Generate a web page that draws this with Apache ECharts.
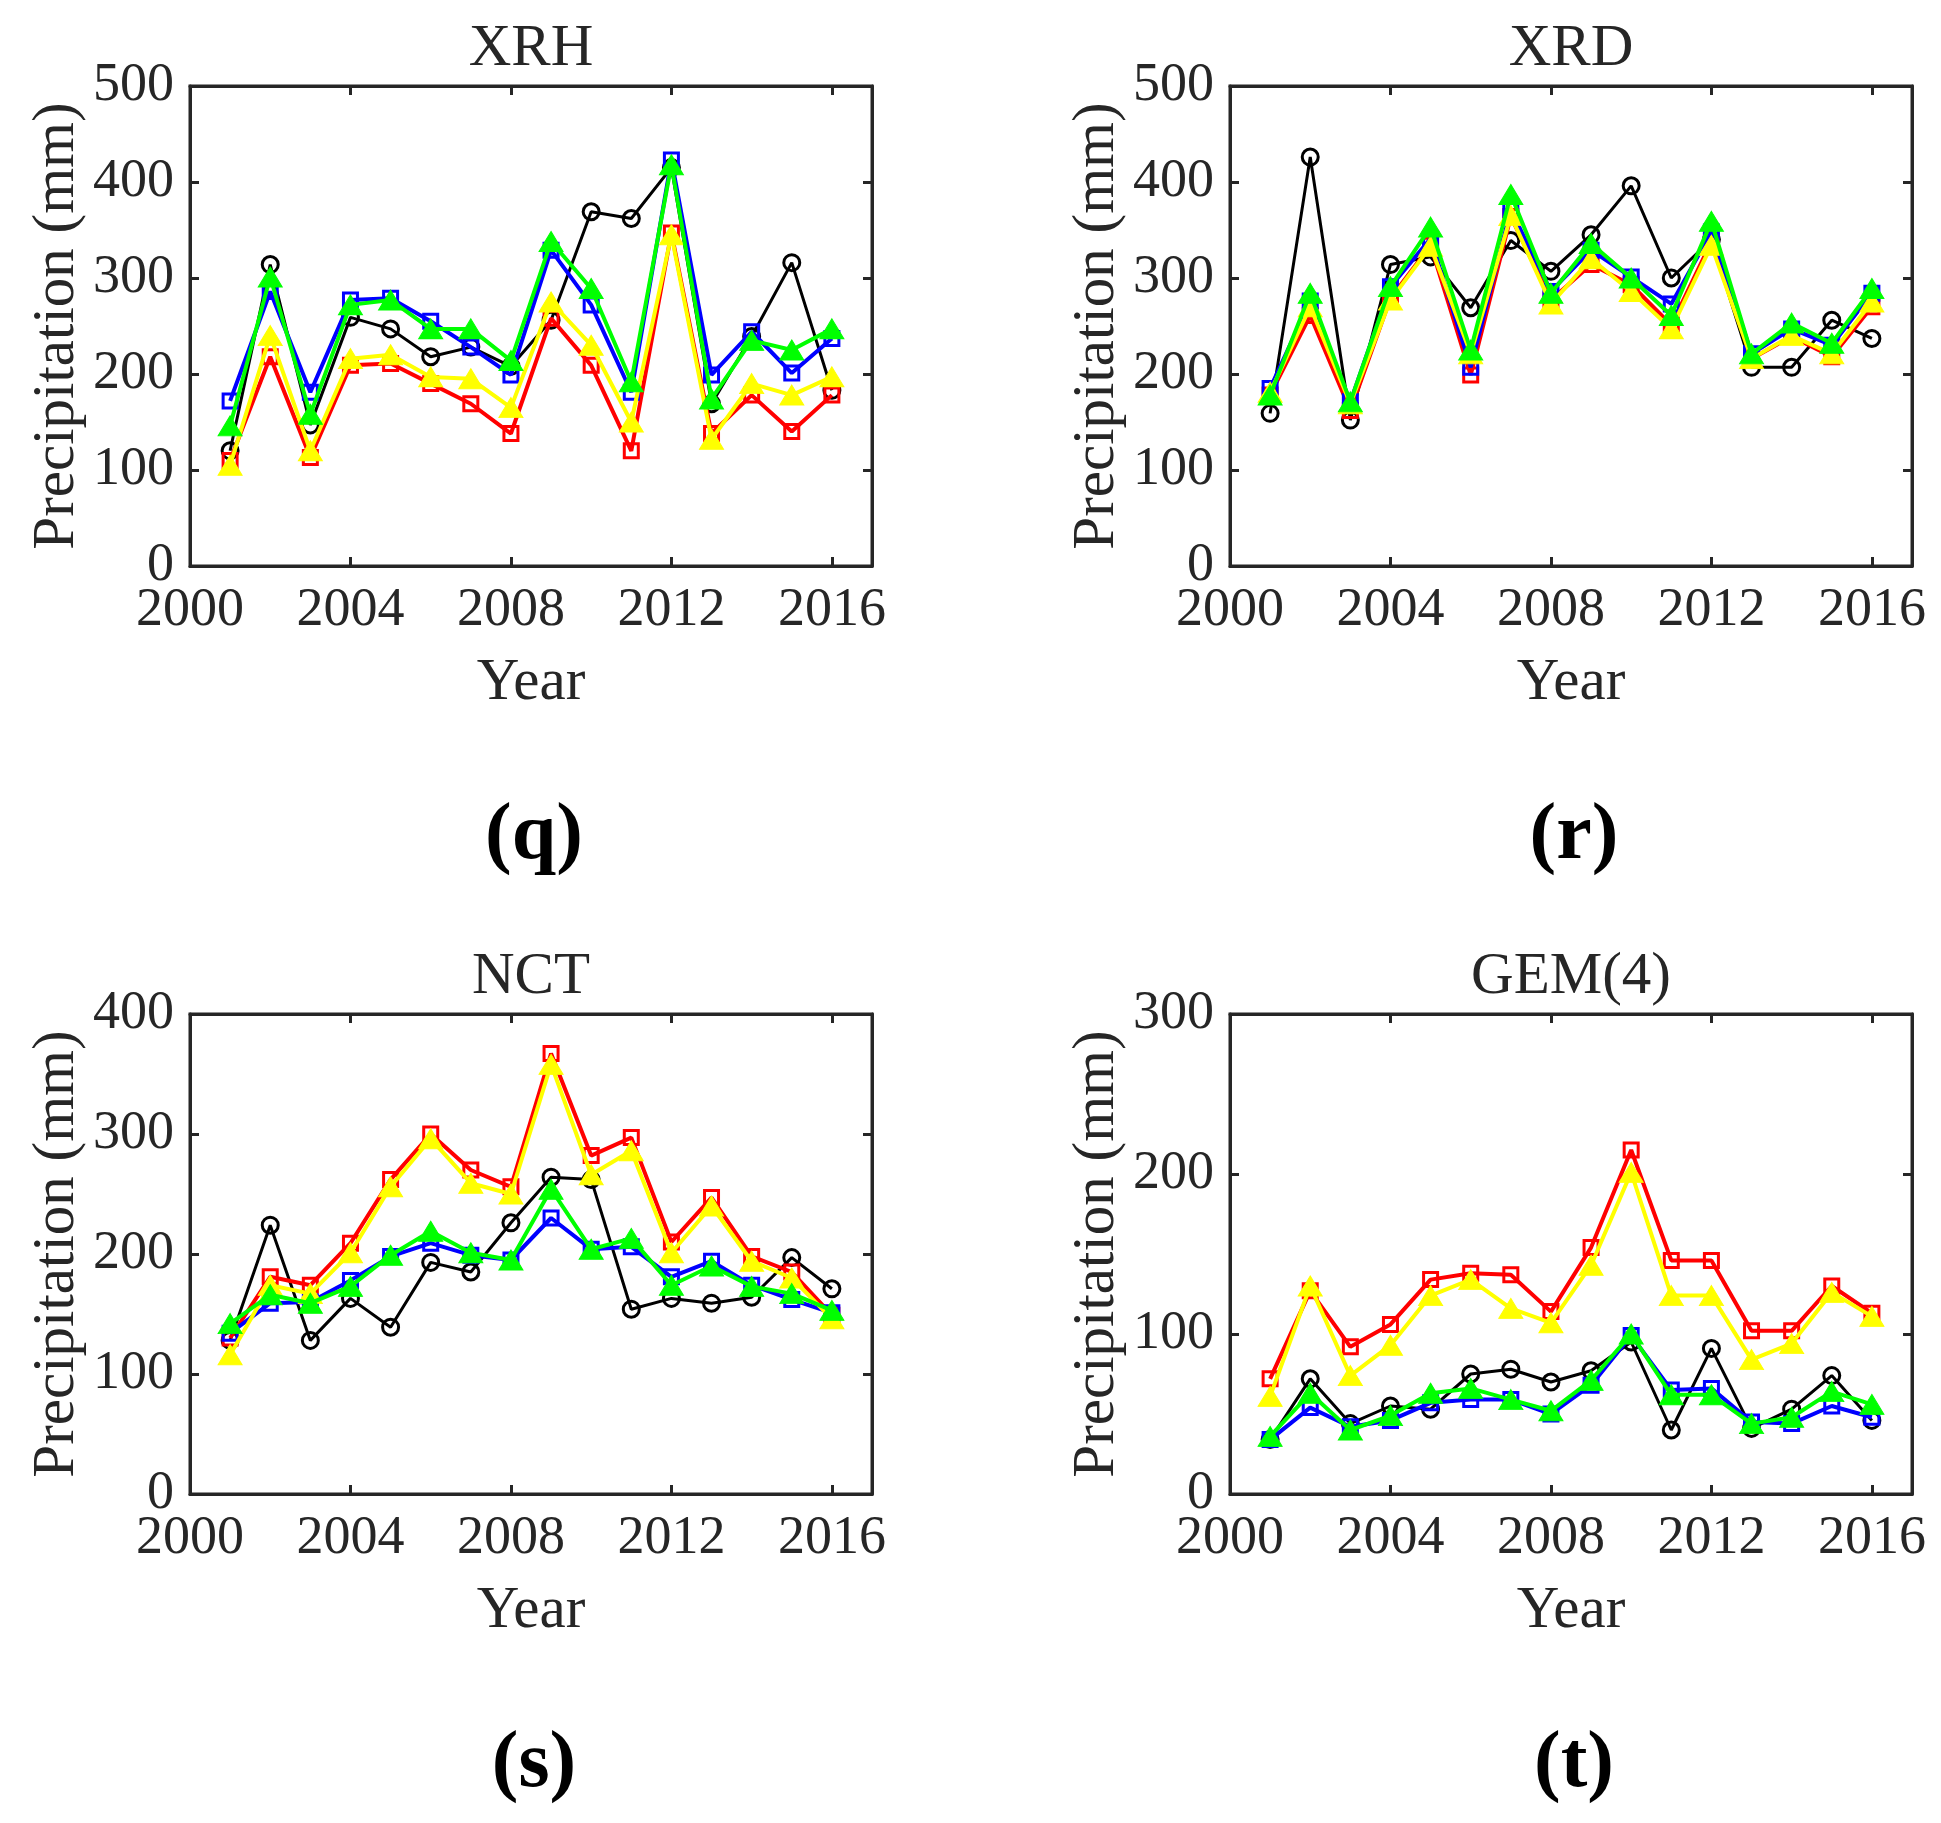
<!DOCTYPE html>
<html>
<head>
<meta charset="utf-8">
<script src="https://cdn.jsdelivr.net/npm/echarts@6/dist/echarts.min.js"></script>
<style>
html, body { margin: 0; padding: 0; background: #fff; }
#chart { width: 1941px; height: 1823px; }
</style>
</head>
<body>
<div id="chart"></div>
<script>
var years = [2001, 2002, 2003, 2004, 2005, 2006, 2007, 2008, 2009, 2010, 2011, 2012, 2013, 2014, 2015, 2016];
var xTicks = [2000, 2004, 2008, 2012, 2016];

// XRH (q)
var xrhBlack  = [120, 314, 147, 259, 247, 218, 228, 208, 256, 369, 362, 415, 169, 239, 316, 183];
var xrhBlue   = [172, 286, 181, 277, 279, 255, 228, 199, 329, 272, 181, 423, 199, 244, 201, 237];
var xrhRed    = [110, 218, 113, 209, 211, 190, 169, 138, 258, 209, 120, 347, 138, 178, 140, 178];
var xrhYellow = [105, 240, 120, 216, 220, 197, 195, 165, 275, 230, 150, 345, 132, 190, 178, 197];
var xrhGreen  = [146, 301, 158, 272, 277, 247, 247, 214, 338, 289, 192, 418, 174, 235, 225, 247];

// XRD (r)
var xrdBlack  = [159, 426, 152, 314, 322, 269, 339, 307, 345, 396, 300, 340, 207, 207, 256, 237];
var xrdBlue   = [185, 276, 171, 291, 341, 207, 371, 286, 329, 301, 273, 348, 221, 247, 230, 284];
var xrdRed    = [178, 261, 162, 279, 334, 199, 364, 277, 314, 293, 251, 338, 216, 239, 218, 270];
var xrdYellow = [181, 270, 169, 277, 333, 221, 365, 273, 320, 286, 247, 334, 216, 240, 221, 275];
var xrdGreen  = [178, 284, 171, 291, 353, 225, 387, 284, 336, 300, 261, 359, 221, 253, 232, 289];

// NCT (s)
var nctBlack  = [128, 224, 128, 163, 139, 193, 185, 226, 264, 262, 154, 163, 159, 164, 197, 171];
var nctBlue   = [134, 159, 160, 178, 198, 209, 199, 195, 230, 204, 206, 181, 194, 174, 162, 151];
var nctRed    = [130, 181, 174, 209, 262, 300, 270, 256, 367, 282, 297, 210, 247, 198, 185, 149];
var nctYellow = [116, 174, 167, 201, 256, 296, 259, 250, 358, 266, 286, 201, 240, 194, 180, 146];
var nctGreen  = [142, 166, 159, 173, 199, 219, 201, 195, 254, 204, 213, 174, 190, 173, 167, 153];

// GEM(4) (t)
var gemBlack  = [34, 72, 44, 55, 53, 75, 78, 70, 77, 95, 40, 91, 41, 53, 74, 46];
var gemBlue   = [34, 54, 42, 46, 57, 59, 59, 50, 68, 99, 65, 66, 45, 44, 55, 48];
var gemRed    = [72, 127, 92, 106, 134, 138, 137, 114, 154, 215, 146, 146, 102, 102, 130, 113];
var gemYellow = [61, 130, 74, 93, 124, 134, 116, 107, 143, 201, 124, 124, 84, 94, 126, 111];
var gemGreen  = [36, 63, 40, 49, 63, 66, 59, 52, 71, 100, 62, 62, 44, 48, 64, 56];

var panels = [
    {title: 'XRH', tag: '(q)', left: 190, top: 86, yMax: 500,
     lines: [xrhBlack, xrhRed, xrhBlue, xrhYellow, xrhGreen]},
    {title: 'XRD', tag: '(r)', left: 1230, top: 86, yMax: 500,
     lines: [xrdBlack, xrdRed, xrdBlue, xrdYellow, xrdGreen]},
    {title: 'NCT', tag: '(s)', left: 190, top: 1014, yMax: 400,
     lines: [nctBlack, nctRed, nctBlue, nctYellow, nctGreen]},
    {title: 'GEM(4)', tag: '(t)', left: 1230, top: 1014, yMax: 300,
     lines: [gemBlack, gemRed, gemBlue, gemYellow, gemGreen]}
];

// drawing order: black, red, blue, yellow, green (green on top)
var looks = [
    {color: '#000000', symbol: 'circle',   size: 16,       hollow: true,  width: 3},
    {color: '#ff0000', symbol: 'rect',     size: 14,       hollow: true,  width: 4},
    {color: '#0000ff', symbol: 'rect',     size: 14,       hollow: true,  width: 4},
    {color: '#ffff00', symbol: 'triangle', size: [24, 20], hollow: false, width: 4},
    {color: '#00ff00', symbol: 'triangle', size: [24, 20], hollow: false, width: 4}
];

var plotW = 682, plotH = 480;
var ink = '#262626';
var serif = 'Liberation Serif';

var grids = [], xAxes = [], yAxes = [], series = [], texts = [];

function axisBase(extra) {
    var a = {
        axisLine: {show: true, onZero: false, lineStyle: {color: ink, width: 3}},
        axisTick: {show: true, inside: true, length: 9, lineStyle: {color: ink, width: 3}},
        splitLine: {show: false}
    };
    for (var k in extra) a[k] = extra[k];
    return a;
}

for (var i = 0; i < panels.length; i++) {
    var p = panels[i];
    grids.push({left: p.left, top: p.top, width: plotW, height: plotH,
                show: true, borderColor: ink, borderWidth: 3, backgroundColor: 'transparent'});

    xAxes.push(axisBase({
        gridIndex: i, type: 'value', position: 'bottom', min: 2000, max: 2017, interval: 4,
        axisLabel: {color: ink, fontFamily: serif, fontSize: 54, margin: 18,
                    formatter: function(v) { return xTicks.indexOf(v) >= 0 ? String(v) : ''; }},
        name: 'Year', nameLocation: 'middle', nameGap: 88,
        nameTextStyle: {color: ink, fontFamily: serif, fontSize: 59}
    }));
    xAxes.push(axisBase({
        gridIndex: i, type: 'value', position: 'top', min: 2000, max: 2017, interval: 4,
        axisLabel: {show: false}
    }));
    yAxes.push(axisBase({
        gridIndex: i, type: 'value', position: 'left', min: 0, max: p.yMax, interval: 100,
        axisLabel: {color: ink, fontFamily: serif, fontSize: 54, margin: 16},
        name: 'Precipitation (mm)', nameLocation: 'middle', nameGap: 103, nameRotate: 90,
        nameTextStyle: {color: ink, fontFamily: serif, fontSize: 59}
    }));
    yAxes.push(axisBase({
        gridIndex: i, type: 'value', position: 'right', min: 0, max: p.yMax, interval: 100,
        axisLabel: {show: false}
    }));

    for (var s = 0; s < p.lines.length; s++) {
        var lk = looks[s];
        var pts = [];
        for (var j = 0; j < years.length; j++) pts.push([years[j], p.lines[s][j]]);
        series.push({
            type: 'line',
            xAxisIndex: 2 * i,
            yAxisIndex: 2 * i,
            data: pts,
            symbol: lk.symbol,
            symbolSize: lk.size,
            showAllSymbol: true,
            z: 2 + s,
            lineStyle: {color: lk.color, width: lk.width},
            itemStyle: lk.hollow
                ? {color: 'rgba(255,255,255,0)', borderColor: lk.color, borderWidth: 3}
                : {color: lk.color, borderColor: lk.color, borderWidth: 1}
        });
    }

    var cx = p.left + plotW / 2;
    texts.push({
        type: 'text', x: cx, y: p.top - 37,
        style: {text: p.title, align: 'center', verticalAlign: 'middle',
                fontFamily: serif, fontSize: 59, fill: ink}
    });
    texts.push({
        type: 'text', x: cx + 3, y: p.top + 751,
        style: {text: p.tag, align: 'center', verticalAlign: 'middle',
                fontFamily: serif, fontSize: 80, fontWeight: 'bold', fill: '#000'}
    });
}

var myChart = echarts.init(document.getElementById('chart'));
myChart.setOption({
    animation: false,
    backgroundColor: '#ffffff',
    grid: grids,
    xAxis: xAxes,
    yAxis: yAxes,
    series: series,
    graphic: texts
});
</script>
</body>
</html>
